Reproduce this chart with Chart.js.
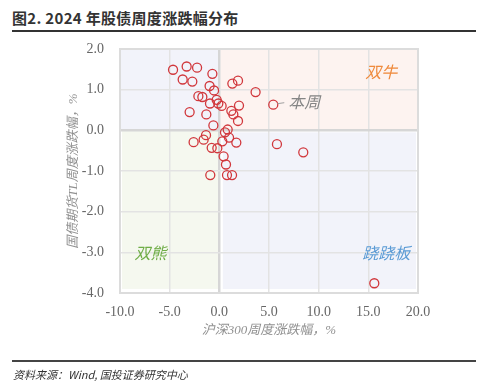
<!DOCTYPE html>
<html>
<head>
<meta charset="utf-8">
<script src="https://cdn.jsdelivr.net/npm/chart.js@4.4.1/dist/chart.umd.min.js"></script>
<style>
html,body{margin:0;padding:0;background:#fff;width:484px;height:388px;overflow:hidden;}
#title{position:absolute;left:12px;top:7px;font:bold 15px "Noto Sans CJK SC","Noto Sans",sans-serif;color:#333;letter-spacing:0.3px;}
#topline{position:absolute;left:12px;top:30px;width:464px;height:2px;background:#333;}
#botline{position:absolute;left:12px;top:360px;width:464px;height:2px;background:#444;}
#source{position:absolute;left:13px;top:366px;font:italic 11px "Noto Sans CJK SC",sans-serif;color:#333;}
#wrap{position:absolute;left:0;top:0;width:484px;height:388px;}
</style>
</head>
<body>
<div id="title">图2. 2024 年股债周度涨跌幅分布</div>
<div id="topline"></div>
<div id="wrap"><canvas id="c" width="484" height="388"></canvas></div>
<div id="botline"></div>
<div id="source">资料来源：Wind, 国投证券研究中心</div>
<script>
// Weekly returns: CSI 300 (%) vs TL futures (%)
const stockWeekly = [-4.66,-3.29,-2.24,-3.69,-2.72,-0.70,-0.98,-0.53,1.31,1.88,3.65,-2.11,-1.71,-0.94,-0.27,-0.10,0.23,1.98,5.43,-2.99,-1.31,1.21,1.41,1.88,-0.60,0.84,0.57,-1.34,-1.58,0.98,0.30,-2.59,1.71,5.80,-0.77,-0.20,0.43,0.67,-0.91,0.77,1.28,8.45,15.6];
const bondWeekly  = [1.49,1.57,1.54,1.25,1.20,1.39,1.09,0.98,1.15,1.22,0.94,0.84,0.82,0.66,0.75,0.66,0.60,0.61,0.63,0.45,0.39,0.48,0.39,0.23,0.12,0.02,-0.05,-0.12,-0.23,-0.18,-0.27,-0.29,-0.30,-0.34,-0.43,-0.44,-0.64,-0.84,-1.10,-1.10,-1.10,-0.54,-3.76];
const thisWeek = {x:5.43, y:0.63};
const xTicks = [-10,-5,0,5,10,15,20];
const yTicks = [-4,-3,-2,-1,0,1,2];
const quadNames = ['双牛','本周','双熊','跷跷板'];
const quadLabelX = [16.3, 8.55, -6.94, 16.8];
const quadLabelY = [1.43, 0.69, -3.02, -3.02];
const quadColors = ['#ef8a3c','#858585','#6fad47','#5b9bd5'];

const points = stockWeekly.map((x,i)=>({x:x, y:bondWeekly[i]}));

const bgPlugin = {
  id:'bg',
  beforeDraw(chart){
    const {ctx, chartArea:a, scales:{x, y}} = chart;
    ctx.save();
    const rect=(x0,x1,y0,y1,c)=>{
      const px0=x.getPixelForValue(x0), px1=x.getPixelForValue(x1);
      const py0=y.getPixelForValue(y0), py1=y.getPixelForValue(y1);
      ctx.fillStyle=c; ctx.fillRect(px0,py0,px1-px0,py1-py0);
    };
    rect(-9.9,-0.05,1.98,0.02,'#f2f3fa');
    rect(0.1,19.9,1.98,0.02,'#fdf3f0');
    rect(-9.8,-0.1,-0.02,-3.9,'#f5f8ef');
    rect(0.35,19.8,-0.05,-3.9,'#f2f3fa');
    ctx.restore();
  },
  afterDraw(chart){
    const {ctx, chartArea:a, scales:{x, y}} = chart;
    ctx.save();
    ctx.strokeStyle='#dcdcdc'; ctx.lineWidth=2;
    ctx.strokeRect(a.left,a.top,a.width,a.height);
    // short pointer from label to this week point
    const px=x.getPixelForValue(thisWeek.x), py=y.getPixelForValue(thisWeek.y);
    ctx.strokeStyle='#a0a0a0'; ctx.lineWidth=1;
    ctx.beginPath(); ctx.moveTo(px+4,py-1); ctx.lineTo(px+11,py-2); ctx.stroke();
    ctx.textAlign='center'; ctx.textBaseline='middle';
    quadNames.forEach((t,i)=>{
      ctx.font='italic 16px "Noto Sans CJK SC", sans-serif';
      ctx.fillStyle=quadColors[i];
      ctx.fillText(t, x.getPixelForValue(quadLabelX[i]), y.getPixelForValue(quadLabelY[i]));
    });
    ctx.restore();
  }
};

new Chart(document.getElementById('c'), {
  type:'scatter',
  data:{datasets:[{
    data:points,
    pointRadius:4.5,
    pointHoverRadius:4.5,
    pointBorderWidth:1.3,
    borderColor:'#d1373c',
    backgroundColor:'rgba(255,255,255,0)',
  }]},
  options:{
    responsive:false,
    animation:false,
    events:[],
    layout:{padding:{left:62,right:66,top:49,bottom:46}},
    plugins:{legend:{display:false},tooltip:{enabled:false}},
    scales:{
      x:{
        min:-10,max:20,
        afterFit(s){s.height=49;},
        afterBuildTicks(s){s.ticks=xTicks.map(v=>({value:v}));},
        ticks:{padding:11,color:'#666666',font:{family:'"Liberation Serif", serif',size:14},callback:v=>Number(v).toFixed(1),maxRotation:0},
        grid:{drawTicks:false,color:c=>c.tick&&c.tick.value===0?'#d6d6d6':'#e3e3e3',lineWidth:c=>c.tick&&c.tick.value===0?2.5:1.5},
        border:{display:false},
        title:{display:true,text:'沪深300周度涨跌幅，%',color:'#909090',padding:{top:4,bottom:4},font:{family:'"Liberation Serif","Noto Sans CJK SC", serif',size:13,style:'italic'}}
      },
      y:{
        min:-4,max:2,
        afterFit(s){s.width=58;},
        afterBuildTicks(s){s.ticks=yTicks.map(v=>({value:v}));},
        ticks:{padding:16,color:'#666666',font:{family:'"Liberation Serif", serif',size:14},callback:v=>Number(v).toFixed(1)},
        grid:{drawTicks:false,color:c=>c.tick&&c.tick.value===0?'#d6d6d6':'#e3e3e3',lineWidth:c=>c.tick&&c.tick.value===0?2.5:1.5},
        border:{display:false},
        title:{display:true,text:'国债期货TL周度涨跌幅，%',color:'#909090',padding:{top:4,bottom:4},font:{family:'"Liberation Serif","Noto Sans CJK SC", serif',size:13,style:'italic'}}
      }
    }
  },
  plugins:[bgPlugin]
});
</script>
</body>
</html>
